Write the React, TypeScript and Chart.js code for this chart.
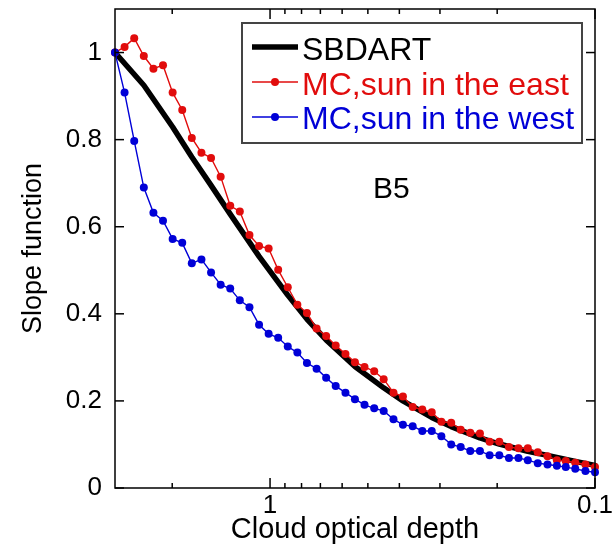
import React, { useEffect, useRef } from 'react';
import { Chart, registerables } from 'chart.js';

Chart.register(...registerables);

// Cloud optical depth (x) for the MC series, log-spaced from 3 down to 0.1
const tau = [
  3.0, 2.803, 2.618, 2.446, 2.285, 2.135, 1.994, 1.863, 1.741, 1.626,
  1.519, 1.419, 1.326, 1.239, 1.157, 1.081, 1.01, 0.944, 0.882, 0.824,
  0.77, 0.719, 0.672, 0.628, 0.586, 0.548, 0.512, 0.478, 0.447, 0.417,
  0.39, 0.364, 0.34, 0.318, 0.297, 0.277, 0.259, 0.242, 0.226, 0.211,
  0.197, 0.184, 0.172, 0.161, 0.15, 0.14, 0.131, 0.123, 0.115, 0.107, 0.1,
];

const mcEast = [
  1.0, 1.013, 1.033, 0.992, 0.963, 0.971, 0.908, 0.868, 0.804, 0.77,
  0.758, 0.715, 0.648, 0.635, 0.581, 0.556, 0.55, 0.501, 0.461, 0.421,
  0.402, 0.366, 0.349, 0.327, 0.308, 0.289, 0.278, 0.268, 0.25, 0.219,
  0.21, 0.186, 0.18, 0.174, 0.152, 0.15, 0.134, 0.127, 0.125, 0.106,
  0.106, 0.094, 0.091, 0.091, 0.082, 0.073, 0.064, 0.062, 0.058, 0.054, 0.048,
];

const mcWest = [
  1.0, 0.908, 0.797, 0.69, 0.632, 0.614, 0.572, 0.563, 0.516, 0.525,
  0.495, 0.467, 0.458, 0.431, 0.415, 0.375, 0.354, 0.345, 0.325, 0.311,
  0.287, 0.274, 0.253, 0.234, 0.219, 0.204, 0.191, 0.183, 0.177, 0.158,
  0.145, 0.142, 0.131, 0.131, 0.119, 0.1, 0.094, 0.085, 0.085, 0.075,
  0.075, 0.069, 0.069, 0.064, 0.057, 0.054, 0.051, 0.048, 0.044, 0.039, 0.036,
];

const sbdartTau = [
  3.0, 2.446, 1.994, 1.741, 1.519, 1.326, 1.081, 0.882, 0.77, 0.672,
  0.548, 0.447, 0.39, 0.318, 0.277, 0.226, 0.197, 0.161, 0.14, 0.115, 0.1,
];
const sbdartSlope = [
  1.0, 0.925, 0.829, 0.76, 0.695, 0.629, 0.532, 0.443, 0.388, 0.34,
  0.279, 0.23, 0.2, 0.162, 0.141, 0.115, 0.101, 0.084, 0.075, 0.061, 0.052,
];

const xLabelTicks = [1, 0.1];
const xMinorTicks = [2, 0.9, 0.8, 0.7, 0.6, 0.5, 0.4, 0.3, 0.2];
const yTicks = [0, 0.2, 0.4, 0.6, 0.8, 1];
const legendLabels = ['SBDART', 'MC,sun in the east', 'MC,sun in the west'];
const panelLabel = 'B5';
const xTitle = 'Cloud optical depth';
const yTitle = 'Slope function';

const RED = 'rgb(225,12,12)';
const BLUE = 'rgb(0,0,215)';
const FONT = '"Liberation Sans", Arial, sans-serif';

const framePlugin = {
  id: 'frameTicks',
  afterDatasetsDraw(chart: any) {
    const { ctx, chartArea } = chart;
    const { left, right, top, bottom } = chartArea;
    const xs = chart.scales.x;
    const ys = chart.scales.y;
    ctx.save();
    ctx.strokeStyle = '#000';
    ctx.lineWidth = 1.5;
    ctx.beginPath();
    ctx.rect(left, top, right - left, bottom - top);
    ctx.stroke();
    const seg = (x1: number, y1: number, x2: number, y2: number) => {
      ctx.beginPath();
      ctx.moveTo(x1, y1);
      ctx.lineTo(x2, y2);
      ctx.stroke();
    };
    xLabelTicks.forEach((v) => {
      const px = xs.getPixelForValue(v);
      seg(px, bottom, px, bottom - 10);
      seg(px, top, px, top + 10);
    });
    xMinorTicks.forEach((v) => {
      const px = xs.getPixelForValue(v);
      seg(px, bottom, px, bottom - 5);
      seg(px, top, px, top + 5);
    });
    yTicks.forEach((v) => {
      const py = ys.getPixelForValue(v);
      seg(left, py, left + 9, py);
      seg(right, py, right - 9, py);
    });
    ctx.restore();
  },
  afterDraw(chart: any) {
    const { ctx } = chart;
    ctx.save();
    // legend box
    ctx.fillStyle = '#fff';
    ctx.fillRect(242, 23, 340, 120);
    ctx.strokeStyle = '#444';
    ctx.lineWidth = 2;
    ctx.strokeRect(242, 23, 340, 120);
    const rows = [
      { label: legendLabels[0], color: '#000', lw: 5.5, marker: false, y: 47, base: 60 },
      { label: legendLabels[1], color: RED, lw: 1.5, marker: true, y: 82, base: 95 },
      { label: legendLabels[2], color: BLUE, lw: 1.5, marker: true, y: 117, base: 129 },
    ];
    rows.forEach((r) => {
      ctx.strokeStyle = r.color;
      ctx.lineWidth = r.lw;
      ctx.beginPath();
      ctx.moveTo(252, r.y);
      ctx.lineTo(298, r.y);
      ctx.stroke();
      if (r.marker) {
        ctx.fillStyle = r.color;
        ctx.beginPath();
        ctx.arc(275, r.y, 4, 0, Math.PI * 2);
        ctx.fill();
      }
      ctx.fillStyle = r.color;
      ctx.font = `32px ${FONT}`;
      ctx.textBaseline = 'alphabetic';
      ctx.textAlign = 'left';
      ctx.fillText(r.label, 302, r.base);
    });
    ctx.fillStyle = '#000';
    ctx.font = `30px ${FONT}`;
    ctx.fillText(panelLabel, 373, 198);
    ctx.restore();
  },
};

export default function App() {
  const ref = useRef<HTMLCanvasElement | null>(null);
  useEffect(() => {
    if (!ref.current) return;
    const zeroPad = (s: any) => {
      s.paddingTop = 0;
      s.paddingBottom = 0;
      s.paddingLeft = 0;
      s.paddingRight = 0;
    };
    const chart = new Chart(ref.current, {
      type: 'line',
      data: {
        datasets: [
          {
            label: legendLabels[2],
            data: tau.map((t, i) => ({ x: t, y: mcWest[i] })),
            borderColor: BLUE,
            backgroundColor: BLUE,
            borderWidth: 1.4,
            pointRadius: 4,
            pointBorderWidth: 0,
            pointBackgroundColor: BLUE,
            clip: false as any,
            order: 1,
          },
          {
            label: legendLabels[1],
            data: tau.map((t, i) => ({ x: t, y: mcEast[i] })),
            borderColor: RED,
            backgroundColor: RED,
            borderWidth: 1.4,
            pointRadius: 4,
            pointBorderWidth: 0,
            pointBackgroundColor: RED,
            clip: false as any,
            order: 2,
          },
          {
            label: legendLabels[0],
            data: sbdartTau.map((t, i) => ({ x: t, y: sbdartSlope[i] })),
            borderColor: '#000',
            borderWidth: 5.5,
            pointRadius: 0,
            borderJoinStyle: 'round',
            borderCapStyle: 'round',
            clip: false as any,
            order: 3,
          },
        ],
      },
      options: {
        animation: false,
        responsive: false,
        layout: { padding: { top: 9, right: 18, left: 0, bottom: 0 } },
        plugins: { legend: { display: false }, tooltip: { enabled: false } },
        scales: {
          x: {
            type: 'logarithmic',
            reverse: true,
            min: 0.1,
            max: 3,
            grid: { display: false, drawTicks: false },
            border: { display: false },
            afterBuildTicks: (s: any) => {
              s.ticks = xLabelTicks.map((v) => ({ value: v }));
            },
            afterFit: (s: any) => {
              s.height = 61;
              zeroPad(s);
            },
            ticks: {
              autoSkip: false,
              maxRotation: 0,
              padding: 2,
              color: '#000',
              font: { family: FONT, size: 26 },
              callback: (v: any) => String(v),
            },
            title: {
              display: true,
              text: xTitle,
              color: '#000',
              font: { family: FONT, size: 29 },
              padding: { top: 0, bottom: 2 },
            },
          },
          y: {
            type: 'linear',
            min: 0,
            max: 1.1,
            grid: { display: false, drawTicks: false },
            border: { display: false },
            afterBuildTicks: (s: any) => {
              s.ticks = yTicks.map((v) => ({ value: v }));
            },
            afterFit: (s: any) => {
              s.width = 115;
              zeroPad(s);
            },
            ticks: {
              padding: 13,
              color: '#000',
              font: { family: FONT, size: 26 },
              callback: (v: any) => String(v),
            },
            title: {
              display: true,
              text: yTitle,
              color: '#000',
              font: { family: FONT, size: 27 },
              padding: { top: 17, bottom: 0 },
            },
          },
        },
      },
      plugins: [framePlugin],
    } as any);
    return () => chart.destroy();
  }, []);
  return (
    <div style={{ position: 'fixed', left: 0, top: 0, width: 613, height: 549, background: '#fff' }}>
      <canvas ref={ref} width={613} height={549} style={{ display: 'block' }} />
    </div>
  );
}
